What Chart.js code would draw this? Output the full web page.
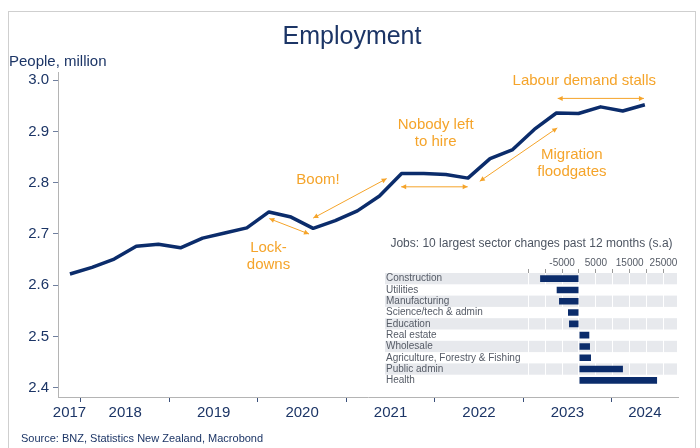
<!DOCTYPE html>
<html>
<head>
<meta charset="utf-8">
<script src="https://cdn.jsdelivr.net/npm/chart.js@4.4.1/dist/chart.umd.min.js"></script>
<style>
  html, body { margin: 0; padding: 0; background: #fff; }
  #wrap { position: relative; width: 700px; height: 448px; overflow: hidden; }
  #frame { position: absolute; left: 8px; top: 11px; width: 688px; height: 470px; border: 1px solid #cfcfcf; box-sizing: border-box; }
  #main { position: absolute; left: 0; top: 0; }
  #jobs { position: absolute; left: 380px; top: 232px; }
</style>
</head>
<body>
<div id="wrap">
  <div id="frame"></div>
  <canvas id="main" width="700" height="448"></canvas>
  <canvas id="jobs" width="300" height="160"></canvas>
</div>
<script>
// Employment, quarterly (millions of people)
var quarters = ['2017Q4',
  '2018Q1', '2018Q2', '2018Q3', '2018Q4',
  '2019Q1', '2019Q2', '2019Q3', '2019Q4',
  '2020Q1', '2020Q2', '2020Q3', '2020Q4',
  '2021Q1', '2021Q2', '2021Q3', '2021Q4',
  '2022Q1', '2022Q2', '2022Q3', '2022Q4',
  '2023Q1', '2023Q2', '2023Q3', '2023Q4',
  '2024Q1', '2024Q2'];
var employment = [2.622,
  2.635, 2.651, 2.676, 2.680,
  2.673, 2.692, 2.702, 2.712,
  2.743, 2.733, 2.711, 2.726,
  2.745, 2.774, 2.818, 2.818,
  2.816, 2.809, 2.847, 2.864,
  2.904, 2.936, 2.935, 2.948,
  2.940, 2.952];
var years = [2017, 2018, 2019, 2020, 2021, 2022, 2023, 2024];
var yTicks = [2.4, 2.5, 2.6, 2.7, 2.8, 2.9, 3.0];

// Jobs: 10 largest sector changes past 12 months
var sectors = ['Construction', 'Utilities', 'Manufacturing', 'Science/tech & admin', 'Education',
  'Real estate', 'Wholesale', 'Agriculture, Forestry & Fishing', 'Public admin', 'Health'];
var sectorChange = [-11500, -6600, -5900, -3250, -2950, 3050, 3250, 3550, 13000, 23100];
var sectorTicks = [-15000, -10000, -5000, 0, 5000, 10000, 15000, 20000, 25000];
var sectorTickLabels = [-5000, 5000, 15000, 25000];

// annotations, in data units (x = decimal year, y = millions)
var notes = [
  { lines: ['Labour demand stalls'], x: 2023.69, y: [2.998] },
  { lines: ['Nobody left', 'to hire'], x: 2022.01, y: [2.912, 2.880] },
  { lines: ['Boom!'], x: 2020.68, y: [2.805] },
  { lines: ['Lock-', 'downs'], x: 2020.12, y: [2.672, 2.639] },
  { lines: ['Migration', 'floodgates'], x: 2023.55, y: [2.855, 2.822] }
];
var arrows = [
  [2023.39, 2.9645, 2024.365, 2.9645],
  [2021.62, 2.792, 2022.372, 2.792],
  [2020.626, 2.731, 2021.456, 2.808],
  [2020.129, 2.730, 2020.578, 2.700],
  [2022.509, 2.803, 2023.385, 2.907]
];

var X_MIN = 2017.74, X_MAX = 2024.75;
var NAVY = '#0b2c6b';
var TEXT = '#1c3566';
var ORANGE = '#f5a42a';
var FONT = '"Liberation Sans", Arial, Helvetica, sans-serif';
Chart.defaults.font.family = FONT;

function toYear(q) {
  return +q.slice(0, 4) + (+q.slice(5) - 1) * 0.25 + 0.125;
}

// one label per year, centred in the visible part of that year
function yearLabelPos(y) {
  var a = Math.max(y, X_MIN), b = Math.min(y + 1, X_MAX);
  return (a + b) / 2;
}

function drawArrow(ctx, x1, y1, x2, y2) {
  var ang = Math.atan2(y2 - y1, x2 - x1), L = 5, W = 2.5;
  ctx.beginPath();
  ctx.moveTo(x1, y1);
  ctx.lineTo(x2, y2);
  ctx.stroke();
  [[x1, y1, ang + Math.PI], [x2, y2, ang]].forEach(function (h) {
    var c = Math.cos(h[2]), s = Math.sin(h[2]);
    ctx.beginPath();
    ctx.moveTo(h[0], h[1]);
    ctx.lineTo(h[0] - L * c + W * s, h[1] - L * s - W * c);
    ctx.lineTo(h[0] - L * c - W * s, h[1] - L * s + W * c);
    ctx.closePath();
    ctx.fill();
  });
}

var decorations = {
  id: 'decorations',
  afterDatasetsDraw: function (chart) {
    var ctx = chart.ctx, xs = chart.scales.x, ys = chart.scales.y;
    ctx.save();
    ctx.fillStyle = TEXT;
    ctx.textBaseline = 'alphabetic';
    ctx.font = '25px ' + FONT;
    ctx.textAlign = 'center';
    ctx.fillText('Employment', 352, 43.5);
    ctx.font = '15px ' + FONT;
    ctx.textAlign = 'left';
    ctx.fillText('People, million', 9, 66);
    ctx.font = '11px ' + FONT;
    ctx.fillText('Source: BNZ, Statistics New Zealand, Macrobond', 21, 442);

    ctx.fillStyle = ORANGE;
    ctx.strokeStyle = ORANGE;
    ctx.lineWidth = 1;
    ctx.font = '15px ' + FONT;
    ctx.textAlign = 'center';
    ctx.textBaseline = 'middle';
    notes.forEach(function (n) {
      n.lines.forEach(function (t, i) {
        ctx.fillText(t, xs.getPixelForValue(n.x), ys.getPixelForValue(n.y[i]));
      });
    });
    arrows.forEach(function (a) {
      drawArrow(ctx, xs.getPixelForValue(a[0]), ys.getPixelForValue(a[1]),
        xs.getPixelForValue(a[2]), ys.getPixelForValue(a[3]));
    });
    ctx.restore();
  }
};

new Chart(document.getElementById('main'), {
  type: 'line',
  data: {
    datasets: [{
      data: quarters.map(function (q, i) { return { x: toYear(q), y: employment[i] }; }),
      borderColor: NAVY,
      borderWidth: 3.5,
      pointRadius: 0,
      tension: 0,
      borderJoinStyle: 'round'
    }]
  },
  options: {
    responsive: false,
    animation: false,
    layout: { padding: { top: 72, right: 22, left: 0, bottom: 0 } },
    plugins: { legend: { display: false }, tooltip: { enabled: false } },
    scales: {
      x: {
        type: 'linear',
        min: X_MIN,
        max: X_MAX,
        afterBuildTicks: function (s) {
          var t = [];
          years.forEach(function (y) {
            if (y > X_MIN) t.push({ value: y });
            t.push({ value: yearLabelPos(y), label: true });
          });
          s.ticks = t;
        },
        afterFit: function (s) { s.height = 51; },
        border: { color: '#b4b4b4', width: 1 },
        grid: {
          drawOnChartArea: false,
          tickLength: 5,
          tickColor: function (c) {
            return c.tick && Number.isInteger(c.tick.value) ? '#3a4f7a' : 'rgba(0,0,0,0)';
          }
        },
        ticks: {
          autoSkip: false,
          maxRotation: 0,
          padding: 2,
          color: TEXT,
          font: { size: 15 },
          callback: function (v) { return Number.isInteger(v) ? '' : String(Math.floor(v)); }
        }
      },
      y: {
        min: 2.382,
        max: 3.016,
        afterBuildTicks: function (s) { s.ticks = yTicks.map(function (v) { return { value: v }; }); },
        afterFit: function (s) { s.width = 58; },
        border: { color: '#b4b4b4', width: 1 },
        grid: { drawOnChartArea: false, tickLength: 5, tickColor: '#6f7f9e' },
        ticks: {
          padding: 4,
          color: TEXT,
          font: { size: 15 },
          callback: function (v) { return v.toFixed(1); }
        }
      }
    }
  },
  plugins: [decorations]
});

// alternating grey row bands behind the sector bars
var bands = {
  id: 'bands',
  beforeDraw: function (chart) {
    var ctx = chart.ctx, ys = chart.scales.y, area = chart.chartArea;
    var h = (area.bottom - area.top) / sectors.length;
    ctx.save();
    ctx.fillStyle = '#e7e9ed';
    sectors.forEach(function (s, i) {
      if (i % 2) return;
      var c = ys.getPixelForValue(i);
      ctx.fillRect(5, c - h / 2, area.right - 5, h);
    });
    ctx.restore();
  }
};

new Chart(document.getElementById('jobs'), {
  type: 'bar',
  data: {
    labels: sectors,
    datasets: [{
      data: sectorChange,
      backgroundColor: NAVY,
      barPercentage: 0.58,
      categoryPercentage: 1
    }]
  },
  options: {
    indexAxis: 'y',
    responsive: false,
    animation: false,
    layout: { padding: { left: 6, right: 3, top: 0, bottom: 4 } },
    plugins: {
      legend: { display: false },
      tooltip: { enabled: false },
      title: {
        display: true,
        text: 'Jobs: 10 largest sector changes past 12 months (s.a)',
        color: '#4d5562',
        font: { size: 12, weight: 'normal' },
        padding: { top: 4, bottom: 4 }
      }
    },
    scales: {
      x: {
        position: 'top',
        min: -15000,
        max: 29000,
        afterBuildTicks: function (s) { s.ticks = sectorTicks.map(function (v) { return { value: v }; }); },
        afterFit: function (s) { s.height = 18.6; },
        border: { display: false },
        grid: { color: '#ffffff', lineWidth: 1, tickColor: '#9a9a9a', tickLength: 4 },
        ticks: {
          autoSkip: false,
          maxRotation: 0,
          padding: 0,
          color: '#555b66',
          font: { size: 10 },
          callback: function (v) { return sectorTickLabels.indexOf(v) >= 0 ? String(v) : ''; }
        }
      },
      y: {
        afterFit: function (s) { s.width = 142.3; },
        border: { display: false },
        grid: { display: false },
        ticks: {
          autoSkip: false,
          crossAlign: 'far',
          padding: 0,
          color: '#555b66',
          font: { size: 10 }
        }
      }
    }
  },
  plugins: [bands]
});
</script>
</body>
</html>
